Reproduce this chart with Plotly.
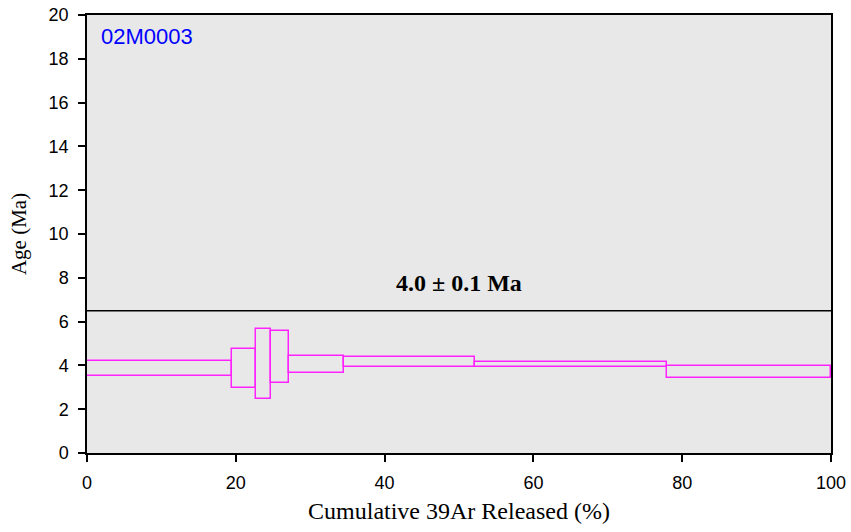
import plotly.graph_objects as go

# Step data: cumulative 39Ar release boundaries (%) and age envelope (Ma)
step_start = [0.0, 19.5, 22.7, 24.7, 27.2, 34.5, 52.2, 78.0]
step_end = [19.5, 22.7, 24.7, 27.2, 34.5, 52.2, 78.0, 100.0]
age_high = [4.22, 4.73, 5.68, 5.56, 4.43, 4.40, 4.16, 3.96]
age_low = [3.52, 2.98, 2.47, 3.21, 3.67, 3.95, 3.93, 3.44]

plateau_line_y = 6.5
plateau_label = "4.0 ± 0.1 Ma"
sample_name = "02M0003"

x_ticks = [0, 20, 40, 60, 80, 100]
y_ticks = [0, 2, 4, 6, 8, 10, 12, 14, 16, 18, 20]

centers = [(a + b) / 2 for a, b in zip(step_start, step_end)]
widths = [b - a for a, b in zip(step_start, step_end)]
heights = [h - l for h, l in zip(age_high, age_low)]

SERIF = "Liberation Serif, Times New Roman, serif"
SANS = "Liberation Sans, Arial, sans-serif"

fig = go.Figure()
fig.add_trace(go.Bar(
    x=centers, width=widths, base=age_low, y=heights,
    marker=dict(color="rgba(0,0,0,0)", line=dict(color="#FF22FF", width=1.5)),
    hoverinfo="skip", showlegend=False,
))
fig.add_trace(go.Scatter(
    x=[0, 100], y=[plateau_line_y, plateau_line_y], mode="lines",
    line=dict(color="black", width=1.5), showlegend=False, hoverinfo="skip",
))

fig.add_annotation(x=50, y=7.76, text="<b>" + plateau_label + "</b>", showarrow=False,
                   font=dict(family=SERIF, size=24, color="black"))
fig.add_annotation(x=1.6, y=19.0, text=sample_name, showarrow=False, xanchor="left",
                   font=dict(family=SANS, size=22, color="#0000FF"))

axis_common = dict(
    showgrid=False, zeroline=False, showline=True, linecolor="black", linewidth=1.5,
    ticks="outside", ticklen=7, tickcolor="black", tickwidth=1.5, mirror=True,
    automargin=False, ticklabeloverflow="allow",
    tickfont=dict(family=SANS, size=18, color="black"),
)
fig.update_xaxes(range=[0, 100], tickvals=x_ticks, ticklabelstandoff=6,
                 title=dict(text="Cumulative 39Ar Released (%)", standoff=10,
                            font=dict(family=SERIF, size=24, color="black")),
                 **axis_common)
fig.update_yaxes(range=[0, 20], tickvals=y_ticks, ticklabelstandoff=6,
                 title=dict(text="Age (Ma)", standoff=16,
                            font=dict(family=SERIF, size=21, color="black")),
                 **axis_common)

fig.update_layout(
    width=851, height=532,
    margin=dict(l=87, r=20, t=15, b=79),
    plot_bgcolor="#E8E8E8", paper_bgcolor="white",
    bargap=0,
)
# remove the default page margin so the figure fills the window exactly
fig.write_html("out.html", config={"displayModeBar": False},
               post_script="document.body.style.margin='0';document.body.style.overflow='hidden';")
